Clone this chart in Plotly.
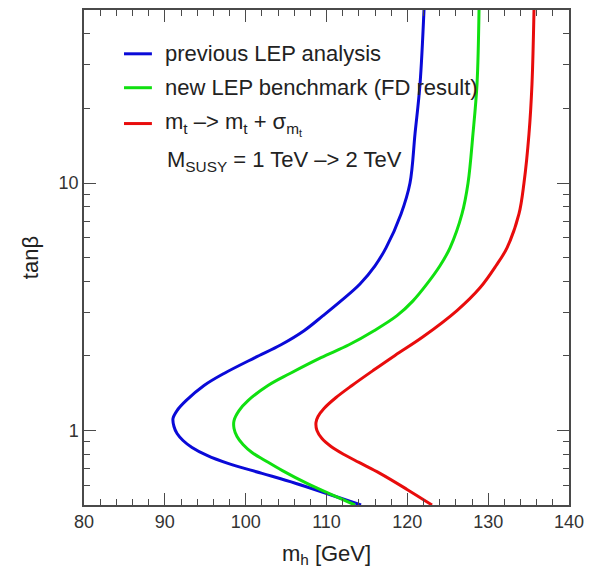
import plotly.graph_objects as go

# ---- data (m_h in GeV, tan(beta)) ----
blue_mh = [122.06, 121.57, 120.95, 120.33, 119.22, 117.36, 116.00, 114.14, 111.79, 109.57,
           107.22, 104.37, 101.15, 97.32, 94.85, 92.62, 91.51, 91.01, 91.13, 91.51,
           92.25, 93.36, 95.22, 97.81, 102.02, 106.23, 114.27]
blue_tb = [50, 25.1, 15.8, 10, 7.5, 5.47, 4.63, 3.91, 3.34, 2.91,
           2.53, 2.22, 1.97, 1.70, 1.52, 1.32, 1.204, 1.118, 1.038, 0.972,
           0.911, 0.854, 0.793, 0.736, 0.671, 0.611, 0.5]

green_mh = [128.87, 128.62, 128.12, 127.51, 126.76, 125.28, 124.04, 122.43, 120.70, 118.72,
            115.88, 112.78, 109.32, 105.48, 102.76, 100.29, 99.18, 98.56, 98.56, 98.93,
            99.67, 100.78, 102.39, 104.49, 107.59, 113.53]
green_tb = [50, 25.1, 15.8, 10, 7.5, 5.47, 4.63, 3.91, 3.34, 2.91,
            2.53, 2.22, 1.97, 1.70, 1.52, 1.32, 1.204, 1.097, 1.019, 0.946,
            0.878, 0.815, 0.757, 0.690, 0.611, 0.5]

red_mh = [135.67, 135.42, 135.05, 134.43, 133.81, 132.33, 130.97, 128.99, 126.14, 121.94,
          118.47, 115.75, 113.15, 111.18, 109.69, 108.95, 108.70, 108.82, 109.44, 110.56,
          112.16, 114.02, 116.62, 119.96, 123.05]
red_tb = [50, 25.1, 15.8, 10, 7.5, 5.47, 4.63, 3.77, 3.05, 2.39,
          2.01, 1.746, 1.52, 1.359, 1.227, 1.139, 1.077, 1.0, 0.928, 0.862,
          0.800, 0.743, 0.671, 0.578, 0.5]

series_names = ["previous LEP analysis",
                "new LEP benchmark (FD result)",
                "m<sub>t</sub> –> m<sub>t</sub> + σ<sub>m<sub>t</sub></sub>"]
series_colors = ["#0a0ad8", "#10e010", "#e80c0c"]
note_text = "M<sub>SUSY</sub> = 1 TeV –> 2 TeV"

x_ticks = [80, 90, 100, 110, 120, 130, 140]
y_ticks = [1, 10]
y_minor = [0.5, 0.6, 0.7, 0.8, 0.9, 2, 3, 4, 5, 6, 7, 8, 9, 20, 30, 40]

FONT = "Liberation Sans, Arial, Helvetica, sans-serif"
AXC = "#4a4a4a"

fig = go.Figure()
for xs, ys, name, col in zip([blue_mh, green_mh, red_mh], [blue_tb, green_tb, red_tb],
                             series_names, series_colors):
    fig.add_trace(go.Scatter(x=xs, y=ys, mode="lines", name=name,
                             line=dict(color=col, width=3, shape="spline", smoothing=1.0),
                             showlegend=False))

# legend drawn in the top-left corner of the plot area
row_y = [0.9115, 0.843, 0.7706]
for yy, name, col in zip(row_y, series_names, series_colors):
    fig.add_shape(type="line", xref="paper", yref="paper", x0=0.0825, x1=0.140,
                  y0=yy, y1=yy, line=dict(color=col, width=3))
    fig.add_annotation(xref="paper", yref="paper", x=0.163, y=yy, text=name,
                       showarrow=False, xanchor="left", yanchor="middle",
                       font=dict(family=FONT, size=22, color="#222"))
fig.add_annotation(xref="paper", yref="paper", x=0.166, y=0.694, text=note_text,
                   showarrow=False, xanchor="left", yanchor="middle",
                   font=dict(family=FONT, size=22, color="#222"))

fig.update_layout(
    width=595, height=571,
    margin=dict(l=84, r=26, t=8, b=66),
    paper_bgcolor="white", plot_bgcolor="white",
    font=dict(family=FONT, size=18, color="#333"),
)
fig.update_xaxes(range=[80, 140], tickvals=x_ticks, ticks="inside", ticklen=12,
                 tickwidth=1.2, tickcolor=AXC, showline=True, linecolor=AXC, linewidth=1.5,
                 mirror="ticks", showgrid=False, zeroline=False,
                 tickfont=dict(size=18, color="#333"),
                 minor=dict(dtick=2, ticks="inside", ticklen=6, tickwidth=1.2, tickcolor=AXC,
                            showgrid=False),
                 title=dict(text="m<sub>h</sub> [GeV]", font=dict(size=22, color="#222"),
                            standoff=14))
fig.update_yaxes(type="log", range=[0.69897 - 1, 1.69897], tickvals=y_ticks,
                 ticktext=[str(v) for v in y_ticks], ticks="inside", ticklen=12,
                 tickwidth=1.2, tickcolor=AXC, showline=True, linecolor=AXC, linewidth=1.5,
                 mirror="ticks", showgrid=False, zeroline=False,
                 tickfont=dict(size=18, color="#333"),
                 minor=dict(tickvals=y_minor, ticks="inside", ticklen=6, tickwidth=1.2,
                            tickcolor=AXC, showgrid=False),
                 title=dict(text="tanβ", font=dict(size=22, color="#222"), standoff=14))

fig.write_html("out.html")
